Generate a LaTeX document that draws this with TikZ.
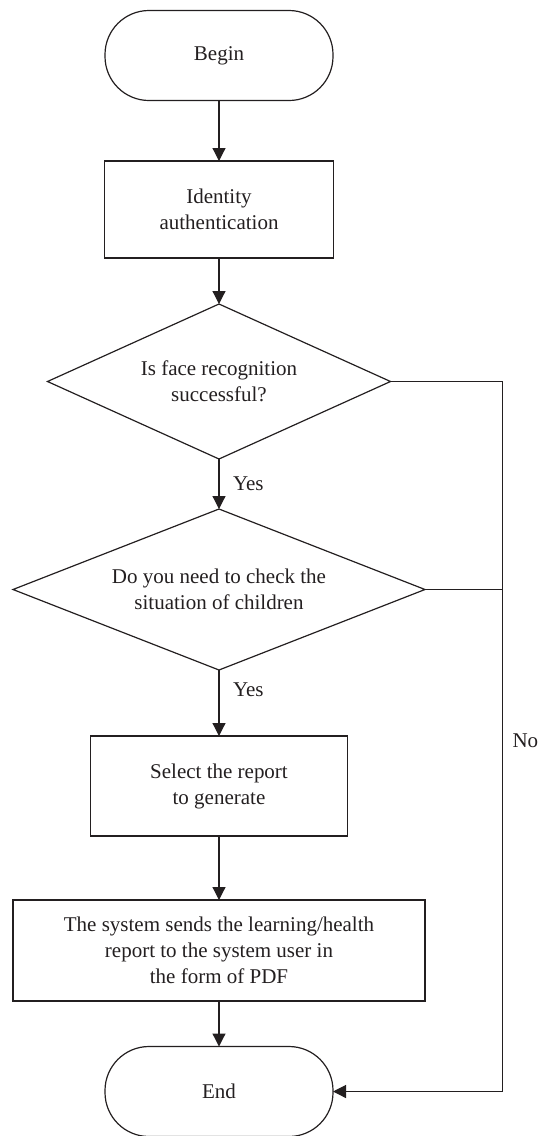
\documentclass[tikz,border=0pt]{standalone}
\usepackage{fontspec}
\setmainfont{Liberation Serif}
\usetikzlibrary{shapes.geometric,arrows.meta}
\definecolor{ink}{RGB}{35,31,32}
\begin{document}
\begin{tikzpicture}[x=1pt,y=-1pt,
  every node/.style={font=\fontsize{21}{26}\selectfont, text=ink, align=center,
    inner sep=0pt, outer sep=0pt},
  shapebase/.style={draw=ink, line width=1.2pt},
  terminal/.style={shapebase, rectangle, rounded corners=44pt,
    minimum width=228pt, minimum height=90pt},
  process/.style={shapebase, rectangle},
  decision/.style={shapebase, diamond, aspect=2.4},
  link/.style={draw=ink, line width=1.2pt},
  flow/.style={link, -{Triangle[length=13pt,width=13pt]}},
  lbl/.style={font=\fontsize{21}{26}\selectfont}
]
\useasboundingbox (0,0) rectangle (542,1136);

% flow steps
\node[terminal] (begin) at (219,55.5) {Begin};
\node[process, minimum width=229pt, minimum height=97pt] (ident) at (219,209.5)
  {Identity\\authentication};
\node[decision, minimum width=343pt, minimum height=155pt] (face) at (219,381.5)
  {Is face recognition\\successful?};
\node[decision, minimum width=412pt, minimum height=161pt] (check) at (219,589.5)
  {Do you need to check the\\situation of children};
\node[process, minimum width=257pt, minimum height=100pt] (select) at (219,786)
  {Select the report\\to generate};
\node[process, minimum width=412pt, minimum height=101pt] (send) at (219,950.5)
  {The system sends the learning/health\\report to the system user in\\the form of PDF};
\node[terminal] (end) at (219,1091.5) {End};

% right-hand return rail
\coordinate (rail) at (502.5,0);

% connectors
\draw[flow] (begin.south) -- (ident.north);
\draw[flow] (ident.south) -- (face.north);
\draw[flow] (face.south) -- node[lbl, right=14pt] {Yes} (check.north);
\draw[flow] (check.south) -- node[lbl, right=14pt, pos=0.3] {Yes} (select.north);
\draw[flow] (select.south) -- (send.north);
\draw[flow] (send.south) -- (end.north);
\draw[flow] (face.east) -- (face.east -| rail)
  -- node[lbl, right=10pt, pos=0.506] {No} (rail |- end.east) -- (end.east);
\draw[link] (check.east) -- (check.east -| rail);
\end{tikzpicture}
\end{document}
